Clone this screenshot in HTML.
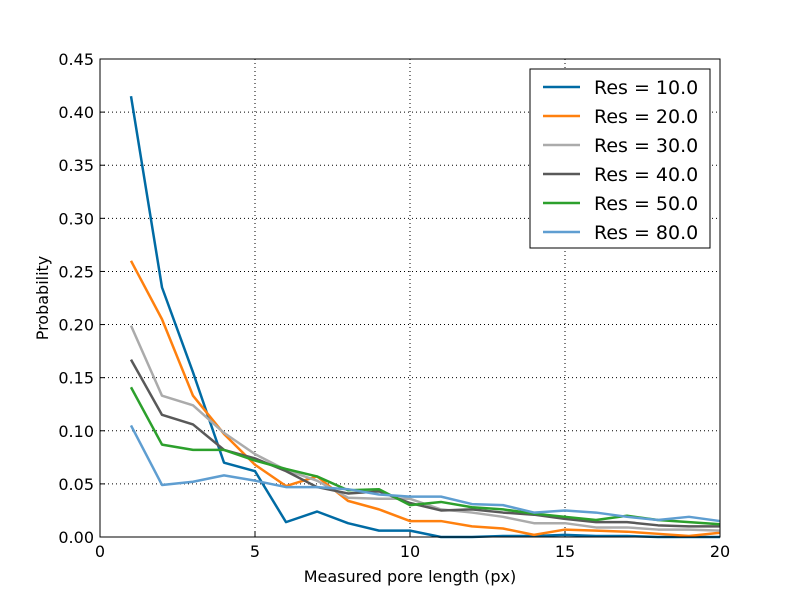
<!DOCTYPE html>
<html><head><meta charset="utf-8"><style>body{margin:0;background:#fff}svg{display:block;font-family:"DejaVu Sans","Liberation Sans",sans-serif}</style></head>
<body>
<svg id="chart" width="800" height="597"></svg>
<script>
const xs=[1,2,3,4,5,6,7,8,9,10,11,12,13,14,15,16,17,18,19,20];
const seriesNames=["Res = 10.0","Res = 20.0","Res = 30.0","Res = 40.0","Res = 50.0","Res = 80.0"];
const res10=[0.415,0.235,0.155,0.070,0.062,0.014,0.024,0.013,0.006,0.006,0.000,0.000,0.001,0.001,0.002,0.001,0.001,0.000,0.000,0.000];
const res20=[0.26,0.205,0.133,0.097,0.068,0.048,0.057,0.034,0.026,0.015,0.015,0.010,0.008,0.002,0.007,0.006,0.005,0.003,0.001,0.004];
const res30=[0.199,0.133,0.124,0.098,0.078,0.063,0.053,0.037,0.036,0.036,0.026,0.023,0.019,0.013,0.013,0.009,0.009,0.007,0.007,0.006];
const res40=[0.167,0.115,0.106,0.082,0.074,0.062,0.047,0.041,0.043,0.032,0.025,0.026,0.023,0.021,0.017,0.014,0.014,0.011,0.010,0.010];
const res50=[0.141,0.087,0.082,0.082,0.072,0.064,0.057,0.044,0.045,0.030,0.033,0.028,0.026,0.022,0.019,0.016,0.020,0.016,0.014,0.012];
const res80=[0.105,0.049,0.052,0.058,0.053,0.047,0.047,0.045,0.040,0.038,0.038,0.031,0.030,0.023,0.025,0.023,0.019,0.016,0.019,0.015];
const xTicks=[0,5,10,15,20];
const yTicks=[0,0.05,0.10,0.15,0.20,0.25,0.30,0.35,0.40,0.45];
const colors=["#006ba4","#ff800e","#ababab","#595959","#2ca02c","#5f9ed1"];
const allSeries=[res10,res20,res30,res40,res50,res80];
const L=100,R=720,T=59,B=537;
const sx=v=>L+(v-0)/20*(R-L);
const sy=v=>B-(v/0.45)*(B-T);
const svg=document.getElementById('chart');
const NS="http://www.w3.org/2000/svg";
function mk(tag,attrs,parent){const e=document.createElementNS(NS,tag);for(const k in attrs)e.setAttribute(k,attrs[k]);(parent||svg).appendChild(e);return e;}
xTicks.forEach(t=>{if(t>0&&t<20){const g=mk('line',{x1:sx(t),x2:sx(t),y1:T,y2:B,stroke:'#000','stroke-width':1,'stroke-dasharray':'1,3'});

}
const tk=mk('line',{x1:sx(t),x2:sx(t),y1:B,y2:B-5,stroke:'#000'});


const tl=mk('text',{x:sx(t),y:B+20,'text-anchor':'middle','font-size':16});tl.textContent=t;

});
yTicks.forEach(t=>{if(t>0&&t<0.45){const g=mk('line',{x1:L,x2:R,y1:sy(t),y2:sy(t),stroke:'#000','stroke-width':1,'stroke-dasharray':'1,3'});

}
const tk=mk('line',{x1:L,x2:L+5,y1:sy(t),y2:sy(t),stroke:'#000'});


const tl=mk('text',{x:L-6,y:sy(t)+6,'text-anchor':'end','font-size':16});tl.textContent=t.toFixed(2);

});
allSeries.forEach((s,i)=>{const p=mk('polyline',{points:s.map((v,j)=>sx(xs[j])+','+sy(v)).join(' '),fill:'none',stroke:colors[i],'stroke-width':2.5,'stroke-linejoin':'round'});

});
const fr=mk('rect',{x:L,y:T,width:R-L,height:B-T,fill:'none',stroke:'#000','stroke-width':1});


const lg=mk('g',{});


mk('rect',{x:530,y:69,width:180,height:179,fill:'#fff',stroke:'#000'},lg);
seriesNames.forEach((n,i)=>{const y=87+i*29;
const e=mk('g',{},lg);


mk('line',{x1:543,x2:580,y1:y,y2:y,stroke:colors[i],'stroke-width':2.5},e);
const t=mk('text',{x:594,y:y+7,'font-size':19},e);t.textContent=n;});
const xt=mk('text',{x:410,y:582,'text-anchor':'middle','font-size':16});xt.textContent='Measured pore length (px)';


const yt=mk('text',{x:48,y:298,'text-anchor':'middle','font-size':16,transform:'rotate(-90 48 298)'});yt.textContent='Probability';


</script>
</body></html>
